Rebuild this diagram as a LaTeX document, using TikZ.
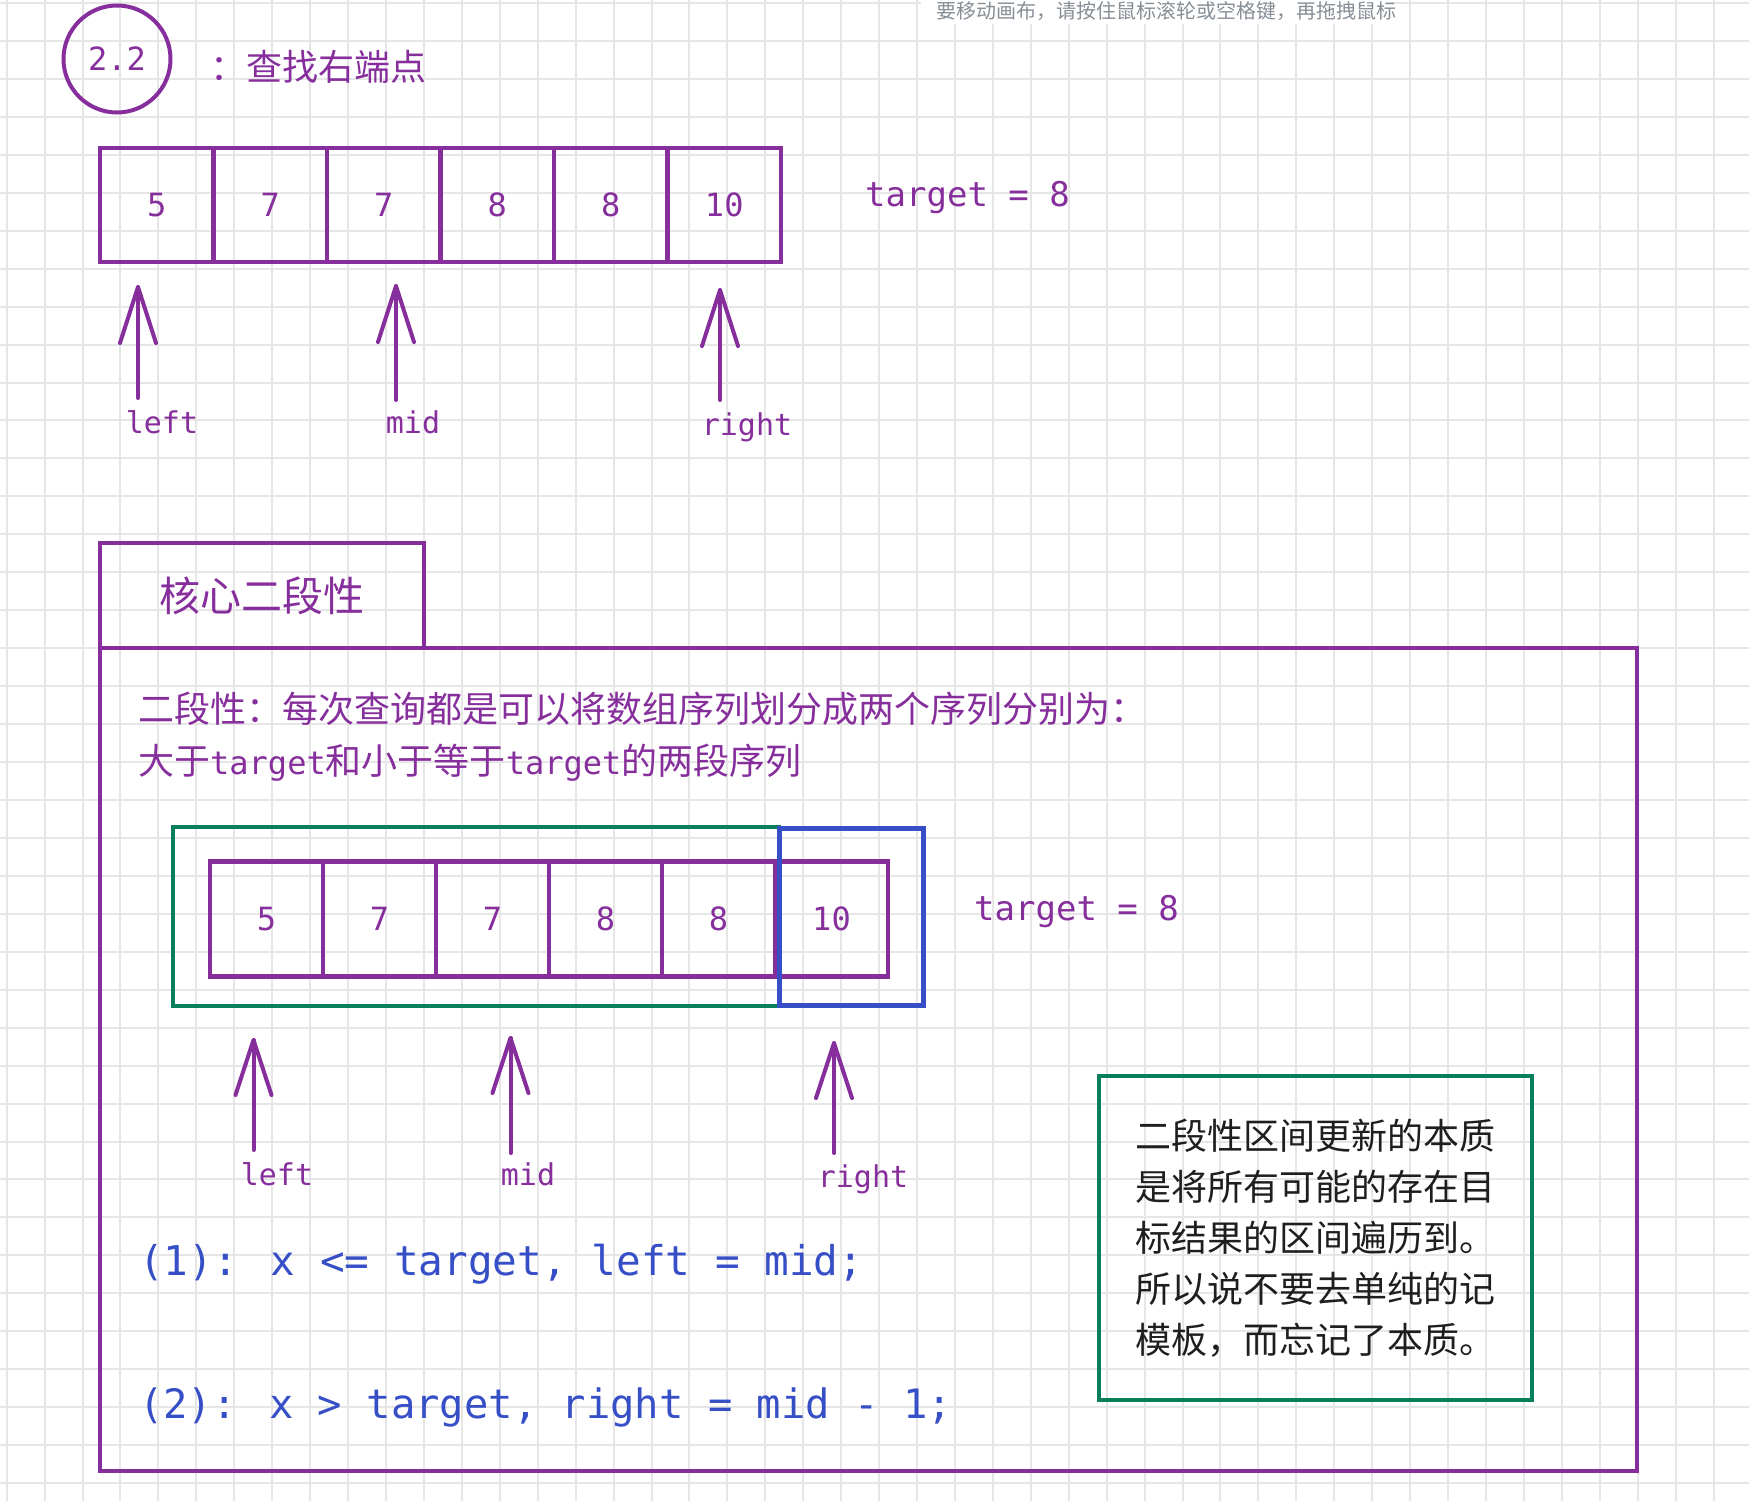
\documentclass[tikz,border=0pt]{standalone}
\usepackage{fontspec}
\newfontfamily\cjk{Noto Sans CJK SC}
\newfontfamily\hand{DejaVu Sans Mono}
\usetikzlibrary{calc}
\definecolor{grape}{HTML}{862E9C}
\definecolor{exgreen}{HTML}{087F5B}
\definecolor{exblue}{HTML}{364FC7}
\definecolor{gridc}{HTML}{E6E6E6}
\definecolor{ink}{HTML}{1E1E1E}
\definecolor{toastc}{HTML}{868E96}
\tikzset{
  gridline/.style={draw=gridc, line width=2pt},
  cell/.style={draw=grape, line width=4.5pt, rectangle, inner sep=0pt, outer sep=0pt,
    minimum height=114pt, text=grape, font=\hand\fontsize{32}{38}\selectfont},
  ptr/.style={draw=grape, line width=4pt, line cap=round, line join=round},
  handlbl/.style={text=grape, inner sep=0pt, font=\hand\fontsize{30}{36}\selectfont},
  cjktxt/.style={text=grape, inner sep=0pt, font=\cjk\fontsize{36}{51}\selectfont},
  bluecode/.style={text=exblue, inner sep=0pt, font=\hand\fontsize{41}{48}\selectfont},
}
\begin{document}
\begin{tikzpicture}[x=1pt,y=-1pt]
\useasboundingbox (0,0) rectangle (1749,1501);
\clip (0,0) rectangle (1749,1501);
\fill[white] (0,0) rectangle (1749,1501);
% grid
\foreach \i in {0,...,45} \draw[gridline] ({6.7+37.93*\i},0) -- ++(0,1501);
\foreach \j in {0,...,39} \draw[gridline] (0,{3+37.95*\j}) -- ++(1749,0);
% toast
\fill[white] (921,0) rectangle (1387,24);
\node[anchor=base west, inner sep=0pt, text=toastc, font=\cjk\fontsize{20}{24}\selectfont] (toast) at (936,18.5) {要移动画布，请按住鼠标滚轮或空格键，再拖拽鼠标};
% title
\node[draw=grape, line width=4pt, circle, minimum size=107pt, inner sep=0pt, text=grape,
      font=\hand\fontsize{32}{38}\selectfont] (num) at (117,59) {2.2};
\node[cjktxt, anchor=base west] (title) at (210,81) {：查找右端点};
% top array
\foreach \v [count=\i] in {5,7,7,8,8,10}
  \node[cell, minimum width=113.5pt] (a\i) at ({100+113.5*(\i-0.5)},205) {\v};
\node[handlbl, anchor=base west, font=\hand\fontsize{34}{40}\selectfont] (tgtA) at (865,206) {target = 8};
% top pointers
\foreach \n/\x/\t/\b in {L/138/287/398, M/396/286/400, R/720/290/400}{
  \coordinate (ta\n) at (\x,\t);
  \coordinate (tb\n) at (\x,\b);
  \draw[ptr] (tb\n) -- (ta\n);
  \draw[ptr] ($(ta\n)+(-18,56)$) -- (ta\n) -- ($(ta\n)+(18,56)$);
}
\node[handlbl, anchor=base] (lblL) at (162,433) {left};
\node[handlbl, anchor=base] (lblM) at (413,433) {mid};
\node[handlbl, anchor=base] (lblR) at (747,435) {right};
% core section
\node[draw=grape, line width=4pt, minimum width=324pt, minimum height=105pt, inner sep=0pt,
      text=grape, font=\cjk\fontsize{41}{48}\selectfont] (tab) at (262,595.5) {核心二段性};
\draw[grape, line width=4pt] (100,648) rectangle (1637,1471);
\node[cjktxt, anchor=base west] (desc1) at (138,722) {二段性：每次查询都是可以将数组序列划分成两个序列分别为：};
\node[cjktxt, anchor=base west] (desc2) at (138,774) {大于{\hand\fontsize{32}{38}\selectfont target}和小于等于{\hand\fontsize{32}{38}\selectfont target}的两段序列};
% bottom array
\foreach \v [count=\i] in {5,7,7,8,8,10}
  \node[cell, minimum width=113pt, minimum height=115pt] (b\i) at ({210+113*(\i-0.5)},919) {\v};
\draw[exgreen, line width=4pt] (173,827) rectangle (779,1006);
\draw[exblue, line width=5pt] (779,828) rectangle (923,1005);
\node[handlbl, anchor=base west, font=\hand\fontsize{34}{40}\selectfont] (tgtB) at (974,920) {target = 8};
% bottom pointers
\foreach \n/\x/\t/\b in {L/253.5/1040/1150, M/510.5/1038/1153, R/834/1043/1153}{
  \coordinate (ba\n) at (\x,\t);
  \coordinate (bb\n) at (\x,\b);
  \draw[ptr] (bb\n) -- (ba\n);
  \draw[ptr] ($(ba\n)+(-18,55)$) -- (ba\n) -- ($(ba\n)+(18,55)$);
}
\node[handlbl, anchor=base] (blL) at (277,1185) {left};
\node[handlbl, anchor=base] (blM) at (528,1185) {mid};
\node[handlbl, anchor=base] (blR) at (863,1187) {right};
% rules
\node[bluecode, anchor=base west] (rule1) at (139,1275) {(1): x <= target, left = mid;};
\node[bluecode, anchor=base west, font=\hand\fontsize{40.5}{48}\selectfont] (rule2) at (139,1418) {(2): x > target, right = mid - 1;};
% note
\node[draw=exgreen, line width=4pt, minimum width=433pt, minimum height=324pt, inner sep=0pt,
      align=left, text=ink, font=\cjk\fontsize{36}{51}\selectfont] (note) at (1315.5,1238)
  {二段性区间更新的本质\\是将所有可能的存在目\\标结果的区间遍历到。\\所以说不要去单纯的记\\模板，而忘记了本质。};
\end{tikzpicture}
\end{document}
